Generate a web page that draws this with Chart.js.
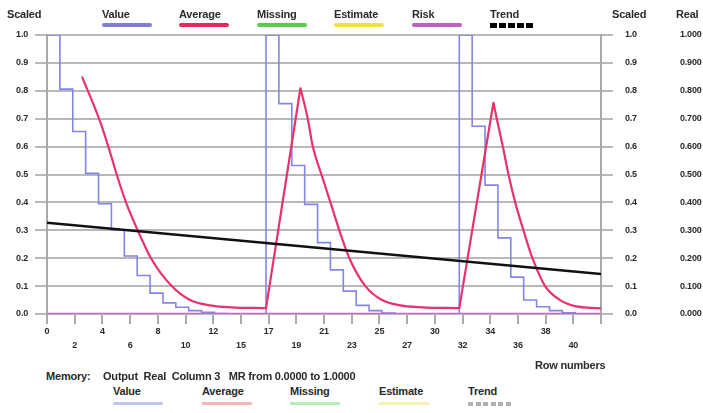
<!DOCTYPE html>
<html>
<head>
<meta charset="utf-8">
<script src="https://cdn.jsdelivr.net/npm/chart.js@4.4.1/dist/chart.umd.min.js"></script>
<style>
  body { margin: 0; background: #fff; }
  #wrap { position: relative; width: 703px; height: 413px; overflow: hidden;
          font: bold 11px "Liberation Sans", Arial, sans-serif; color: #2a2a2a; letter-spacing: -0.2px; }
  #chartBox { position: absolute; left: 0; top: 0; width: 703px; height: 360px; }
  .txt { position: absolute; line-height: 12px; white-space: pre; }
  .swatch { position: absolute; height: 4px; border-radius: 2px; }
  .pale { height: 3px; border-radius: 1px; }
</style>
</head>
<body>
<div id="wrap">
  <div id="chartBox"><canvas id="chart" width="703" height="360"></canvas></div>
  <div id="legendTop"></div>
  <div id="legendBottom"></div>
  <div class="txt" style="left:7px;top:8px">Scaled</div>
  <div class="txt" style="left:612px;top:8px">Scaled</div>
  <div class="txt" style="left:676px;top:8px">Real</div>
  <div class="txt" style="left:535px;top:359px">Row numbers</div>
  <div class="txt" style="left:46px;top:370px">Memory:</div>
  <div class="txt" style="left:103px;top:370px">Output  Real  Column 3   MR from 0.0000 to 1.0000</div>
</div>
<script>
// Row axis: 43 rows, 20 tick intervals with rounded-down row labels
const rowCount = 43;
const tickLabels = ['0', '2', '4', '6', '8', '10', '12', '15', '17', '19', '21',
                    '23', '25', '27', '30', '32', '34', '36', '38', '40', ''];

// Value per row (step line)
const valueRows = [
  1.0, 0.806, 0.654, 0.504, 0.395, 0.300, 0.208, 0.138, 0.075, 0.040,
  0.024, 0.012, 0.006, 0.002, 0, 0, 0,
  1.0, 0.754, 0.532, 0.393, 0.256, 0.158, 0.082, 0.031, 0.012, 0.003,
  0, 0, 0, 0, 0,
  1.0, 0.673, 0.462, 0.273, 0.132, 0.050, 0.026, 0.012, 0.004, 0, 0
];

// Average curve read along the rows
const averageRows = [
  2.74, 4.04, 4.76, 5.41, 6.13, 7.04, 8.07, 9.68, 11.1, 12.5, 14.3, 17.0,
  19.67, 20.24, 20.63, 21.3, 22.0, 22.69, 23.47, 24.71, 26.0, 27.3, 29.1, 32.0,
  34.65, 34.91, 35.38, 35.82, 36.34, 36.98, 37.68, 38.66, 39.83, 41.0, 42.94
];
const averageValues = [
  0.848, 0.70, 0.60, 0.50, 0.40, 0.30, 0.20, 0.10, 0.05, 0.032, 0.024, 0.021,
  0.809, 0.70, 0.60, 0.50, 0.40, 0.30, 0.20, 0.10, 0.05, 0.032, 0.024, 0.021,
  0.757, 0.70, 0.60, 0.50, 0.40, 0.30, 0.20, 0.10, 0.05, 0.028, 0.02
];
// indices where the average turns sharply (rise start and peak)
const averageCorners = [11, 12, 23, 24];

// Trend end points and risk level
const trendRows = [0, 43];
const trendValues = [0.327, 0.143];
const riskRows = [0, 43];
const riskValues = [0, 0];

const legendTop = [
  { label: 'Value', x: 102, color: '#7f7fd6' },
  { label: 'Average', x: 179, color: '#e8265e' },
  { label: 'Missing', x: 257, color: '#5cc94f' },
  { label: 'Estimate', x: 334, color: '#ece43a' },
  { label: 'Risk', x: 412, color: '#c060c0' },
  { label: 'Trend', x: 490, color: 'dots' }
];
const legendBottom = [
  { label: 'Value', x: 113, color: '#c4c4f2' },
  { label: 'Average', x: 202, color: '#f6b4b8' },
  { label: 'Missing', x: 290, color: '#b8eab4' },
  { label: 'Estimate', x: 379, color: '#f6f2b4' },
  { label: 'Trend', x: 468, color: 'dots' }
];

function buildLegend(el, items, textTop, lineTop, pale) {
  items.forEach(item => {
    const t = document.createElement('div');
    t.className = 'txt';
    t.style.left = item.x + 'px';
    t.style.top = textTop + 'px';
    t.textContent = item.label;
    el.appendChild(t);

    const s = document.createElement('div');
    s.className = pale ? 'swatch pale' : 'swatch';
    s.style.left = item.x + 'px';
    s.style.top = lineTop + 'px';
    s.style.width = (item.color === 'dots' ? 43 : 50) + 'px';
    if (item.color === 'dots') {
      // dotted sample: solid squares with narrow gaps
      const c = pale ? '#b0b0b0' : '#000';
      const sq = pale ? 5 : 7;
      const period = pale ? 7.6 : 9;
      s.style.borderRadius = '0';
      s.style.height = pale ? '4px' : '5px';
      s.style.background = `repeating-linear-gradient(90deg, ${c} 0 ${sq}px, transparent ${sq}px ${period}px)`;
    } else {
      s.style.background = item.color;
    }
    el.appendChild(s);
  });
}
buildLegend(document.getElementById('legendTop'), legendTop, 8, 23, false);
buildLegend(document.getElementById('legendBottom'), legendBottom, 385, 402, true);

// Step data needs a closing point at the right edge
const valueData = valueRows.map((v, i) => ({ x: i, y: v }));
valueData.push({ x: rowCount, y: valueRows[valueRows.length - 1] });

// Break the smooth average at its corners: the same point ends one piece
// and starts the next, so the curve stays joined but keeps a sharp turn
const averageData = [];
averageRows.forEach((r, i) => {
  averageData.push({ x: r, y: averageValues[i] });
  if (averageCorners.includes(i)) {
    averageData.push({ x: r, y: null });
    averageData.push({ x: r, y: averageValues[i] });
  }
});
const trendData = trendRows.map((r, i) => ({ x: r, y: trendValues[i] }));
const riskData = riskRows.map((r, i) => ({ x: r, y: riskValues[i] }));

const tickFont = { family: '"Liberation Sans", Arial, sans-serif', size: 9, weight: 'bold', lineHeight: 1.55 };
const gridGray = '#b8b8b8';

new Chart(document.getElementById('chart'), {
  type: 'line',
  data: {
    datasets: [
      { label: 'Value', data: valueData, stepped: true, borderColor: '#8585e4', borderWidth: 1.6, pointRadius: 0, order: 3 },
      { label: 'Average', data: averageData, borderColor: '#e8336a', borderWidth: 2.2, pointRadius: 0,
        cubicInterpolationMode: 'monotone', spanGaps: false, borderCapStyle: 'round', order: 2 },
      { label: 'Missing', data: [], borderColor: '#5cc94f', pointRadius: 0, order: 4 },
      { label: 'Estimate', data: [], borderColor: '#ece43a', pointRadius: 0, order: 5 },
      { label: 'Risk', data: riskData, borderColor: '#c868c8', borderWidth: 2.5, pointRadius: 0, order: 0 },
      { label: 'Trend', data: trendData, borderColor: '#111', borderWidth: 2.5, pointRadius: 0, order: 1 }
    ]
  },
  options: {
    responsive: false,
    animation: false,
    layout: { padding: { top: 35, left: 0, right: 0, bottom: 0 } },
    plugins: { legend: { display: false }, tooltip: { enabled: false } },
    scales: {
      x: {
        type: 'linear',
        min: 0,
        max: rowCount,
        afterBuildTicks: axis => {
          axis.ticks = tickLabels.map((_, i) => ({ value: i * rowCount / (tickLabels.length - 1) }));
        },
        afterFit: axis => { axis.height = 46; },
        ticks: {
          autoSkip: false,
          maxRotation: 0,
          minRotation: 0,
          padding: 1,
          color: '#2a2a2a',
          font: tickFont,
          callback: (v, i) => (i % 2 === 0 ? [tickLabels[i]] : ['', tickLabels[i]])
        },
        grid: { drawOnChartArea: false, tickLength: 10, color: '#aaa', lineWidth: 2 },
        border: { display: false }
      },
      y: {
        min: 0,
        max: 1,
        afterFit: axis => { axis.width = 47; },
        ticks: { stepSize: 0.1, padding: 7, color: '#2a2a2a', font: tickFont, callback: v => v.toFixed(1) },
        grid: { color: gridGray, lineWidth: 2, tickLength: 12 },
        border: { color: '#aaa', width: 2 }
      },
      yS: {
        position: 'right',
        weight: 1,
        min: 0,
        max: 1,
        afterFit: axis => { axis.width = 62; },
        ticks: { stepSize: 0.1, padding: 12, color: '#2a2a2a', font: tickFont, callback: v => v.toFixed(1) },
        grid: { drawOnChartArea: false, color: gridGray, lineWidth: 2, tickLength: 12 },
        border: { color: '#aaa', width: 2 }
      },
      yR: {
        position: 'right',
        weight: 2,
        min: 0,
        max: 1,
        afterFit: axis => { axis.width = 40; },
        ticks: { stepSize: 0.1, padding: 17, color: '#2a2a2a', font: tickFont, callback: v => v.toFixed(3) },
        grid: { display: false, drawTicks: false },
        border: { display: false }
      }
    }
  }
});
</script>
</body>
</html>
